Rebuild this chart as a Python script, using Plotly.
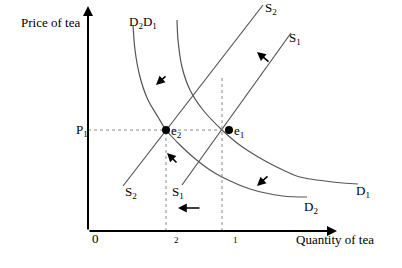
import plotly.graph_objects as go

# ---- data (quantity, price in arbitrary units) ----
d1_q = [8.9, 9.0, 9.4, 10.2, 11.5, 13.4, 14.9, 16.2, 17.9, 19.5, 21.2, 24.5, 27.0]
d1_p = [21.1, 19.1, 16.4, 14.1, 12.1, 10.1, 8.8, 7.9, 6.9, 6.1, 5.4, 4.9, 4.7]

d2_q = [4.5, 4.7, 5.2, 6.0, 7.0, 7.8, 9.2, 10.5, 12.2, 13.4, 16.2, 19.5, 21.9]
d2_p = [20.6, 18.1, 15.4, 13.1, 11.4, 10.1, 8.6, 7.4, 6.1, 5.4, 4.2, 3.5, 3.4]

s1_q = [9.4, 20.3]
s1_p = [4.6, 19.8]

s2_q = [3.5, 17.5]
s2_p = [4.5, 22.6]

eq_q = [7.8, 14.1]      # e2, e1 dots
eq_p = [10.1, 10.1]
p1 = 10.1
q2 = 7.8
q1 = 13.4

FONT = "Liberation Serif"
CURVE = "#555555"

fig = go.Figure()

def curve(q, p, spline=True):
    fig.add_trace(go.Scatter(
        x=q, y=p, mode="lines",
        line=dict(color=CURVE, width=1.2, shape="spline" if spline else "linear", smoothing=0.8),
        hoverinfo="skip", showlegend=False))

curve(d1_q, d1_p)
curve(d2_q, d2_p)
curve(s1_q, s1_p, False)
curve(s2_q, s2_p, False)

# dotted guide lines
dot = dict(color="#888888", width=1, dash="dot")
fig.add_trace(go.Scatter(x=[0, 14.5], y=[p1, p1], mode="lines", line=dot, hoverinfo="skip", showlegend=False))
fig.add_trace(go.Scatter(x=[q2, q2], y=[0, p1], mode="lines", line=dot, hoverinfo="skip", showlegend=False))
fig.add_trace(go.Scatter(x=[q1, q1], y=[0, 15.3], mode="lines", line=dot, hoverinfo="skip", showlegend=False))

# equilibrium dots
fig.add_trace(go.Scatter(x=eq_q, y=eq_p, mode="markers",
                         marker=dict(color="black", size=8),
                         hoverinfo="skip", showlegend=False))

def arrow(x, y, ax, ay, width=1.6, size=1.1):
    fig.add_annotation(x=x, y=y, ax=ax, ay=ay, xref="x", yref="y", axref="x", ayref="y",
                       text="", showarrow=True, arrowhead=2, arrowsize=size,
                       arrowwidth=width, arrowcolor="black", standoff=0)

# axes with arrowheads
arrow(0, 22.5, 0, 0, width=2, size=1.0)
arrow(24.9, 0, 0, 0, width=2, size=1.0)

# shift arrows
arrow(6.8, 14.6, 7.9, 15.6)
arrow(7.9, 7.8, 9.0, 6.7)
arrow(9.0, 2.3, 11.3, 2.3)
arrow(16.9, 17.9, 18.2, 16.8)
arrow(16.9, 4.5, 18.1, 5.6)

def label(text, x, y, size=13, xanchor="center"):
    fig.add_annotation(x=x, y=y, xref="x", yref="y", text=text, showarrow=False,
                       xanchor=xanchor, yanchor="middle",
                       font=dict(family=FONT, size=size, color="black"))

label("Price of tea", -3.8, 20.9)
label("D<sub>2</sub>D<sub>1</sub>", 5.5, 20.9)
label("S<sub>2</sub>", 18.3, 22.3)
label("S<sub>1</sub>", 20.7, 19.3)
label("P<sub>1</sub>", -0.6, 10.1)
label("e<sub>2</sub>", 8.1, 10.0, xanchor="left")
label("e<sub>1</sub>", 14.4, 10.0, xanchor="left")
label("S<sub>2</sub>", 4.3, 3.9)
label("S<sub>1</sub>", 9.0, 3.9)
label("D<sub>1</sub>", 27.5, 4.0)
label("D<sub>2</sub>", 22.3, 2.4)
label("0", 0.7, -0.7)
label("2", 8.8, -0.9, size=9)
label("1", 14.7, -0.9, size=9)
label("Quantity of tea", 24.7, -0.8)

fig.update_layout(
    width=402, height=268,
    margin=dict(l=0, r=0, t=0, b=0),
    paper_bgcolor="white", plot_bgcolor="white",
    xaxis=dict(range=[-8.8, 31.4], visible=False, fixedrange=True),
    yaxis=dict(range=[-3.7, 23.1], visible=False, fixedrange=True),
    showlegend=False,
)

fig.write_html("out.html")
